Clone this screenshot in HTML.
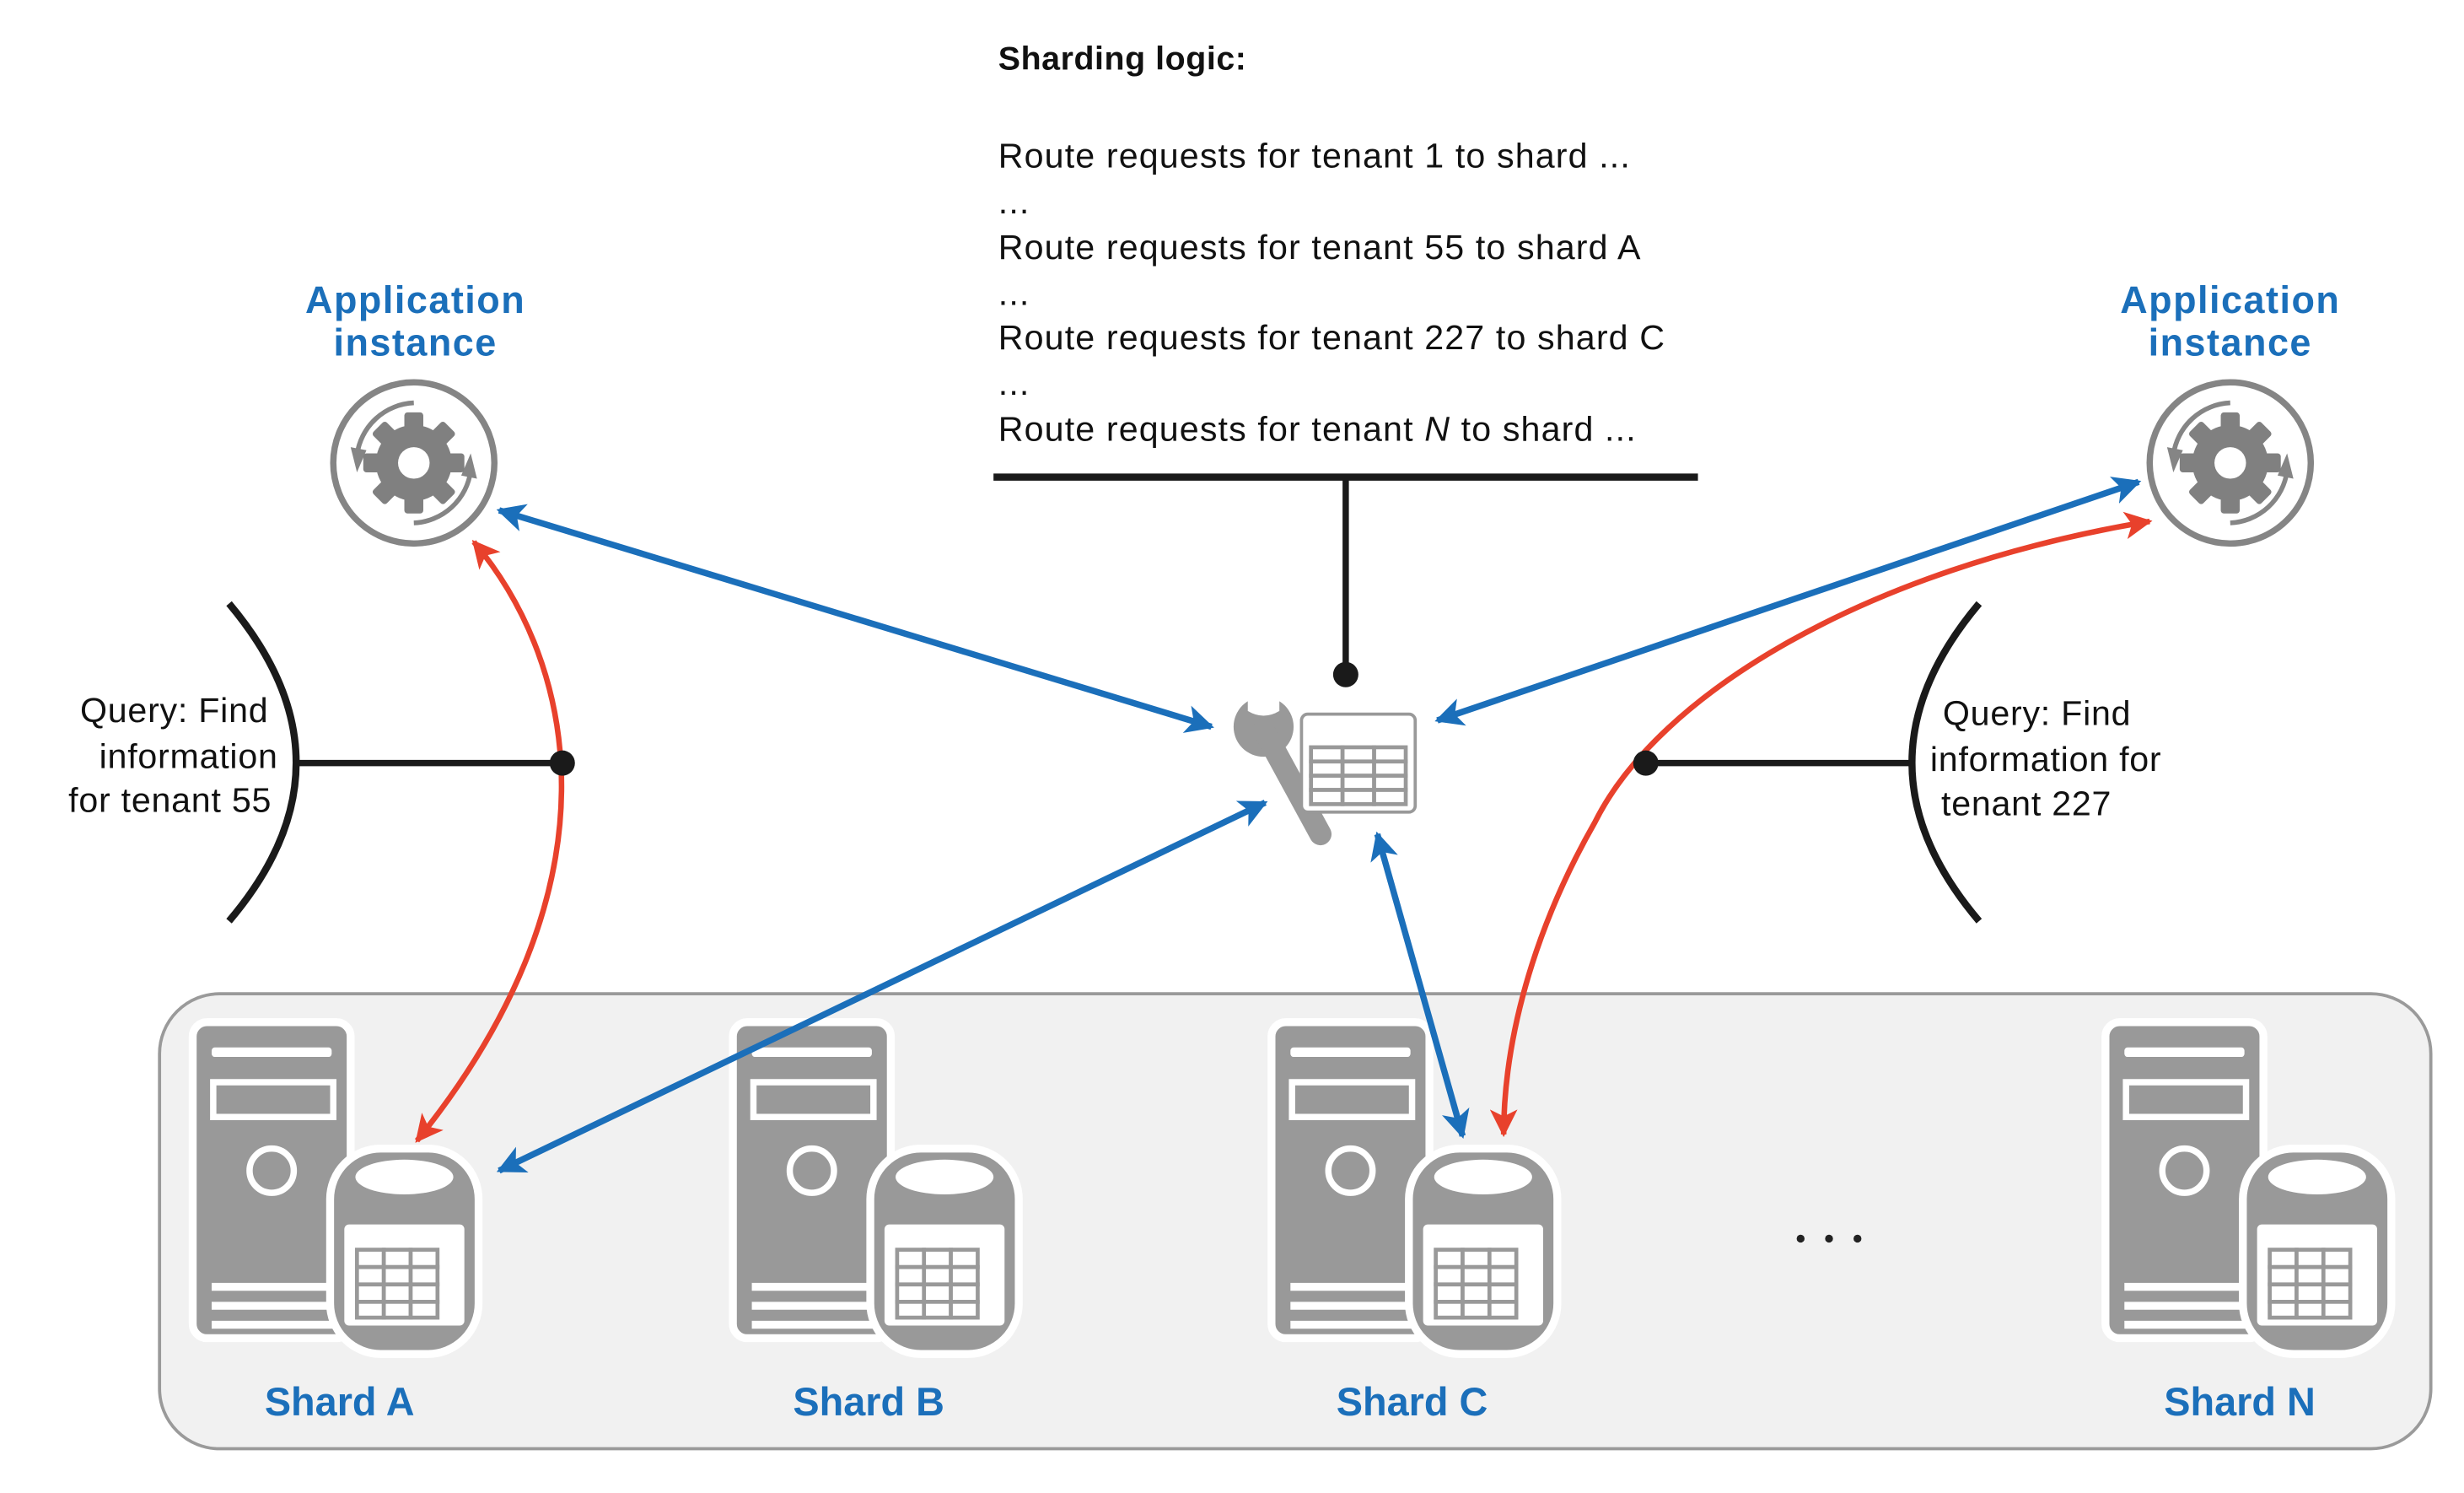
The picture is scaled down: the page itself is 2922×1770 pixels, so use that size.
<!DOCTYPE html>
<html><head><meta charset="utf-8"><style>
html,body{margin:0;padding:0;background:#fff}
svg{display:block}
text{font-family:"Liberation Sans",sans-serif}
</style></head><body>
<svg width="2922" height="1770" viewBox="0 0 1560 945" preserveAspectRatio="none" xmlns="http://www.w3.org/2000/svg">
<defs>
<marker id="bh" viewBox="0 0 10 10" refX="9" refY="5" markerWidth="4.5" markerHeight="4.5" orient="auto-start-reverse" markerUnits="strokeWidth"><path d="M0,0 L10,5 L0,10 L2.5,5 z" fill="#1b6fba"/></marker>
<marker id="rh" viewBox="0 0 10 10" refX="9" refY="5" markerWidth="5" markerHeight="5" orient="auto-start-reverse" markerUnits="strokeWidth"><path d="M0,0 L10,5 L0,10 L2.5,5 z" fill="#e8412c"/></marker>
<g id="srv">
 <rect x="0" y="0" width="100" height="200" rx="9" fill="#999" stroke="#fff" stroke-width="5"/>
 <rect x="12" y="16" width="76" height="6" rx="2" fill="#fff"/>
 <rect x="13" y="38" width="76" height="22" fill="none" stroke="#fff" stroke-width="4"/>
 <circle cx="50" cy="94" r="14" fill="none" stroke="#fff" stroke-width="4"/>
 <rect x="12" y="165" width="80" height="5" fill="#fff"/>
 <rect x="12" y="177" width="80" height="5" fill="#fff"/>
 <rect x="12" y="189" width="80" height="5" fill="#fff"/>
 <rect x="87" y="80" width="94" height="130" rx="32" fill="#999" stroke="#fff" stroke-width="5"/>
 <ellipse cx="134" cy="98" rx="31" ry="11" fill="#fff"/>
 <rect x="96" y="128" width="76" height="64" rx="3" fill="#fff"/>
 <g fill="#fff" stroke="#999" stroke-width="2.5">
  <rect x="104" y="144" width="17" height="11"/><rect x="121" y="144" width="17" height="11"/><rect x="138" y="144" width="17" height="11"/>
  <rect x="104" y="155" width="17" height="11"/><rect x="121" y="155" width="17" height="11"/><rect x="138" y="155" width="17" height="11"/>
  <rect x="104" y="166" width="17" height="11"/><rect x="121" y="166" width="17" height="11"/><rect x="138" y="166" width="17" height="11"/>
  <rect x="104" y="177" width="17" height="10"/><rect x="121" y="177" width="17" height="10"/><rect x="138" y="177" width="17" height="10"/>
 </g>
</g>
<g id="gear">
 <circle cx="0" cy="0" r="51" fill="#fff" stroke="#858585" stroke-width="4"/>
 <path d="M0,-38 A38,38 0 0 0 -36,-5" fill="none" stroke="#858585" stroke-width="3"/>
 <path d="M-40,-10 L-36,6 L-30,-8 z" fill="#858585"/>
 <path d="M0,38 A38,38 0 0 0 36,5" fill="none" stroke="#858585" stroke-width="3"/>
 <path d="M40,10 L36,-6 L30,8 z" fill="#858585"/>
 <g fill="#808080">
  <rect x="-6" y="-32" width="12" height="64" rx="2"/>
  <rect x="-6" y="-32" width="12" height="64" rx="2" transform="rotate(45)"/>
  <rect x="-6" y="-32" width="12" height="64" rx="2" transform="rotate(90)"/>
  <rect x="-6" y="-32" width="12" height="64" rx="2" transform="rotate(135)"/>
  <circle r="24"/>
 </g>
 <circle r="10" fill="#fff"/>
</g>
</defs>

<!-- sharding logic -->
<text x="632" y="44" font-size="21" font-weight="bold" fill="#111" letter-spacing="0.3">Sharding logic:</text>
<g font-size="22" fill="#111" letter-spacing="0.6">
<text x="632" y="106">Route requests for tenant 1 to shard ...</text>
<text x="632" y="135">...</text>
<text x="632" y="164">Route requests for tenant 55 to shard A</text>
<text x="632" y="193">...</text>
<text x="632" y="221">Route requests for tenant 227 to shard C</text>
<text x="632" y="250">...</text>
<text x="632" y="279">Route requests for tenant <tspan font-style="italic">N</tspan> to shard ...</text>
</g>
<line x1="629" y1="302" x2="1075" y2="302" stroke="#1a1a1a" stroke-width="4.5"/>
<line x1="852" y1="302" x2="852" y2="427" stroke="#1a1a1a" stroke-width="4"/>
<circle cx="852" cy="427" r="8" fill="#1a1a1a"/>

<!-- wrench + table -->
<g fill="#999">
 <circle cx="800" cy="460" r="19"/>
 <line x1="800" y1="462" x2="836" y2="528" stroke="#999" stroke-width="14" stroke-linecap="round"/>
</g>
<path d="M790,430 L790,450 Q800,456 810,450 L810,430 Z" fill="#fff"/>
<rect x="824" y="452" width="72" height="62" rx="4" fill="#fff" stroke="#999" stroke-width="2"/>
<g fill="#fff" stroke="#999" stroke-width="2.5">
 <rect x="830" y="473" width="20" height="9"/><rect x="850" y="473" width="20" height="9"/><rect x="870" y="473" width="20" height="9"/>
 <rect x="830" y="482" width="20" height="9"/><rect x="850" y="482" width="20" height="9"/><rect x="870" y="482" width="20" height="9"/>
 <rect x="830" y="491" width="20" height="9"/><rect x="850" y="491" width="20" height="9"/><rect x="870" y="491" width="20" height="9"/>
 <rect x="830" y="500" width="20" height="9"/><rect x="850" y="500" width="20" height="9"/><rect x="870" y="500" width="20" height="9"/>
</g>

<!-- app instances -->
<g font-size="24" font-weight="bold" fill="#1b6fba" text-anchor="middle" letter-spacing="0.8">
<text x="263" y="198">Application</text><text x="263" y="225">instance</text>
<text x="1412" y="198">Application</text><text x="1412" y="225">instance</text>
</g>
<use href="#gear" transform="translate(262,293)"/>
<use href="#gear" transform="translate(1412,293)"/>

<!-- queries -->
<path d="M145,382 Q230,483 145,583" fill="none" stroke="#1a1a1a" stroke-width="4.5"/>
<line x1="188" y1="483" x2="356" y2="483" stroke="#1a1a1a" stroke-width="4"/>
<g font-size="22" fill="#111" text-anchor="end" letter-spacing="0.4">
<text x="170" y="457">Query: Find</text><text x="176" y="486">information</text><text x="172" y="514">for tenant 55</text>
</g>
<path d="M1253,382 Q1168,483 1253,583" fill="none" stroke="#1a1a1a" stroke-width="4.5"/>
<line x1="1042" y1="483" x2="1210" y2="483" stroke="#1a1a1a" stroke-width="4"/>
<g font-size="22" fill="#111" letter-spacing="0.4">
<text x="1230" y="459">Query: Find</text><text x="1222" y="488">information for</text><text x="1229" y="516">tenant 227</text>
</g>

<!-- shard panel -->
<rect x="101" y="629" width="1438" height="288" rx="38" fill="#f1f1f1" stroke="#9a9a9a" stroke-width="2"/>
<use href="#srv" transform="translate(122,647)"/>
<use href="#srv" transform="translate(464,647)"/>
<use href="#srv" transform="translate(805,647)"/>
<use href="#srv" transform="translate(1333,647)"/>
<g font-size="25" font-weight="bold" fill="#1b6fba" text-anchor="middle">
<text x="215" y="896">Shard A</text><text x="550" y="896">Shard B</text><text x="894" y="896">Shard C</text><text x="1418" y="896">Shard N</text>
</g>
<g fill="#222"><circle cx="1140" cy="784" r="2.5"/><circle cx="1158" cy="784" r="2.5"/><circle cx="1176" cy="784" r="2.5"/></g>

<!-- blue arrows -->
<g stroke="#1b6fba" stroke-width="4" fill="none" marker-start="url(#bh)" marker-end="url(#bh)">
<line x1="316" y1="323" x2="767" y2="460"/>
<line x1="1354" y1="305" x2="910" y2="456"/>
<line x1="801" y1="508" x2="316" y2="741"/>
<line x1="872" y1="528" x2="926" y2="719"/>
</g>
<!-- red arrows -->
<g stroke="#e8412c" stroke-width="3.5" fill="none" marker-start="url(#rh)" marker-end="url(#rh)">
<path d="M300,343 C365,420 395,560 264,722"/>
<path d="M1361,330 C1180,360 1050,440 1010,520 C970,590 952,660 952,718"/>
</g>
<circle cx="356" cy="483" r="8" fill="#1a1a1a"/>
<circle cx="1042" cy="483" r="8" fill="#1a1a1a"/>
</svg>
</body></html>
